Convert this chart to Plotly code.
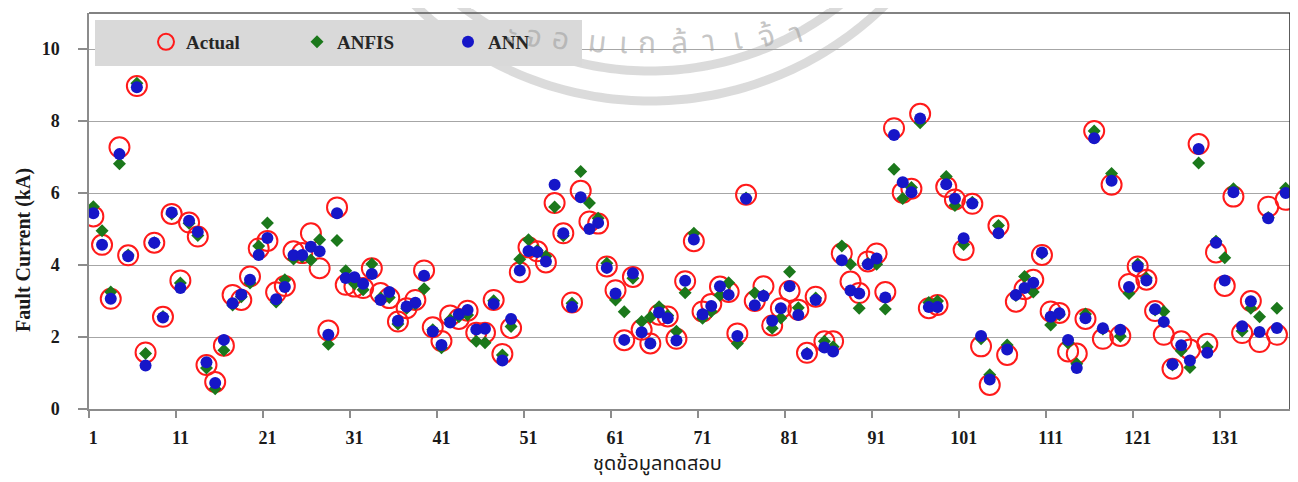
import math
import plotly.graph_objects as go

# ---------------- data ----------------
sample_no = list(range(1, 139))

actual = [5.35, 4.56, 3.06, 7.27, 4.27, 8.97, 1.57, 4.62, 2.56, 5.42,
          3.57, 5.18, 4.79, 1.22, 0.75, 1.76, 3.17, 3.03, 3.68, 4.46,
          4.67, 3.24, 3.42, 4.38, 4.33, 4.88, 3.91, 2.18, 5.60, 3.45,
          3.40, 3.36, 3.91, 3.22, 3.08, 2.43, 2.80, 3.03, 3.85, 2.27,
          1.89, 2.60, 2.50, 2.73, 2.12, 2.12, 3.03, 1.53, 2.25, 3.80,
          4.49, 4.38, 4.07, 5.72, 4.88, 2.96, 6.06, 5.21, 5.15, 3.96,
          3.30, 1.91, 3.67, 2.20, 1.82, 2.62, 2.57, 1.95, 3.55, 4.66,
          2.71, 2.92, 3.40, 3.25, 2.10, 5.95, 3.00, 3.41, 2.32, 2.80,
          3.28, 2.76, 1.56, 3.12, 1.88, 1.88, 4.32, 3.54, 3.22, 4.10,
          4.32, 3.25, 7.80, 6.01, 6.12, 8.20, 2.80, 2.89, 6.17, 5.82,
          4.42, 5.70, 1.74, 0.67, 5.09, 1.50, 2.98, 3.33, 3.59, 4.28,
          2.71, 2.67, 1.60, 1.54, 2.50, 7.72, 1.95, 6.23, 2.03, 3.47,
          3.96, 3.59, 2.72, 2.06, 1.12, 1.88, 1.65, 7.36, 1.81, 4.35,
          3.42, 5.90, 2.11, 3.00, 1.86, 5.62, 2.06, 5.81]

anfis = [5.62, 4.95, 3.25, 6.81, 4.28, 9.05, 1.54, 4.62, 2.57, 5.42,
         3.50, 5.16, 4.82, 1.14, 0.56, 1.63, 2.89, 3.12, 3.50, 4.53,
         5.17, 2.97, 3.59, 4.17, 4.22, 4.14, 4.70, 1.80, 4.68, 3.84,
         3.48, 3.31, 4.03, 3.08, 3.10, 2.36, 2.80, 2.92, 3.34, 2.20,
         1.70, 2.48, 2.56, 2.61, 1.88, 1.84, 3.01, 1.50, 2.29, 4.16,
         4.70, 4.40, 4.24, 5.61, 4.81, 2.94, 6.60, 5.72, 5.30, 4.05,
         3.03, 2.70, 3.63, 2.43, 2.55, 2.84, 2.60, 2.16, 3.23, 4.88,
         2.52, 2.71, 3.16, 3.51, 1.82, 5.86, 3.22, 3.15, 2.24, 2.53,
         3.81, 2.81, 1.55, 3.08, 1.88, 1.73, 4.53, 4.02, 2.80, 4.04,
         4.02, 2.78, 6.66, 5.85, 6.15, 7.95, 2.96, 3.00, 6.46, 5.65,
         4.57, 5.74, 1.95, 0.95, 5.10, 1.78, 3.15, 3.68, 3.25, 4.32,
         2.33, 2.62, 1.83, 1.26, 2.64, 7.72, 2.22, 6.54, 2.02, 3.21,
         4.03, 3.64, 2.75, 2.71, 1.22, 1.62, 1.15, 6.83, 1.72, 4.66,
         4.20, 6.12, 2.17, 2.80, 2.56, 5.32, 2.80, 6.13]

ann = [5.44, 4.56, 3.06, 7.08, 4.24, 8.94, 1.21, 4.62, 2.54, 5.46,
       3.36, 5.23, 4.92, 1.30, 0.72, 1.92, 2.94, 3.18, 3.59, 4.28,
       4.75, 3.05, 3.39, 4.27, 4.28, 4.51, 4.38, 2.06, 5.44, 3.64,
       3.66, 3.48, 3.75, 3.03, 3.25, 2.45, 2.85, 2.95, 3.70, 2.15,
       1.78, 2.40, 2.63, 2.75, 2.21, 2.23, 2.92, 1.35, 2.50, 3.85,
       4.39, 4.36, 4.10, 6.23, 4.88, 2.83, 5.88, 5.00, 5.17, 3.92,
       3.21, 1.92, 3.77, 2.13, 1.82, 2.68, 2.52, 1.90, 3.56, 4.71,
       2.63, 2.86, 3.41, 3.17, 2.03, 5.84, 2.88, 3.14, 2.45, 2.80,
       3.41, 2.61, 1.53, 3.03, 1.71, 1.60, 4.13, 3.29, 3.21, 4.02,
       4.18, 3.10, 7.61, 6.30, 6.02, 8.07, 2.83, 2.83, 6.24, 5.84,
       4.74, 5.71, 2.03, 0.82, 4.88, 1.65, 3.17, 3.36, 3.51, 4.35,
       2.56, 2.66, 1.92, 1.14, 2.52, 7.52, 2.24, 6.34, 2.20, 3.39,
       3.96, 3.57, 2.77, 2.42, 1.24, 1.77, 1.35, 7.22, 1.56, 4.62,
       3.57, 6.02, 2.30, 2.99, 2.14, 5.30, 2.25, 6.00]

tick_values = [1, 11, 21, 31, 41, 51, 61, 71, 81, 91, 101, 111, 121, 131]
tick_labels = [str(v) for v in tick_values]
boundary_ticks = [v - 0.5 for v in tick_values]
y_ticks = [0, 2, 4, 6, 8, 10]

# ---------------- figure geometry ----------------
# the page body has an 8px margin, so the figure starts at page (8, 8)
OFF = 8
PAGE_W, PAGE_H = 1298, 482
PL, PR, PT, PB = 89, 1290, 13, 409          # plot area in page pixels
W, H = PAGE_W - OFF, PAGE_H - OFF
ML, MT = PL - OFF, PT - OFF
MR, MB = W - (PR - OFF), H - (PB - OFF)
PW, PH = PR - PL, PB - PT


def px(xp):
    return (xp - PL) / PW


def py(yp):
    return (PB - yp) / PH


SERIF = "Liberation Serif, Times New Roman, serif"
THAI = "Noto Sans Thai, Noto Serif Thai, Loma, Garuda, Norasi, Tahoma, sans-serif"
GRID = "#a6a6a6"
AXIS = "#8c8c8c"

fig = go.Figure()
fig.add_trace(go.Scatter(
    x=sample_no, y=actual, mode="markers", name="Actual",
    marker=dict(symbol="circle-open", size=20, color="#ff1a1a",
                line=dict(width=2, color="#ff1a1a"))))
fig.add_trace(go.Scatter(
    x=sample_no, y=anfis, mode="markers", name="ANFIS",
    marker=dict(symbol="diamond", size=10, color="#1b781b")))
fig.add_trace(go.Scatter(
    x=sample_no, y=ann, mode="markers", name="ANN",
    marker=dict(symbol="circle", size=12, color="#1616c8")))

shapes = []


def arc_path(cx, cy, r, x0, x1, n=80):
    pts = []
    for k in range(n + 1):
        xx = x0 + (x1 - x0) * k / n
        d = r * r - (xx - cx) ** 2
        if d < 0:
            continue
        yy = cy + math.sqrt(d)
        pts.append((px(xx), py(yy)))
    return "M " + " L ".join(f"{a:.5f},{b:.5f}" for a, b in pts)


# faint watermark rings (decoration)
for r in (336, 306):
    shapes.append(dict(type="path", xref="paper", yref="paper",
                       path=arc_path(650, -235, r, 650 - r * 0.74, 650 + r * 0.74),
                       line=dict(color="rgba(190,190,190,0.55)", width=9),
                       layer="below"))

# legend background box
shapes.append(dict(type="rect", xref="paper", yref="paper",
                   x0=px(95), x1=px(582), y0=py(66), y1=py(20),
                   fillcolor="#d9d9d9", line=dict(width=0), layer="above"))
# frame top and right
shapes.append(dict(type="line", xref="paper", yref="paper", x0=0, x1=1, y0=1, y1=1,
                   line=dict(color="#595959", width=1.5)))
shapes.append(dict(type="line", xref="paper", yref="paper", x0=1, x1=1, y0=0, y1=1,
                   line=dict(color="#262626", width=1.5)))

annotations = []
# watermark letters along a gentle arc
wm_letters = [("ะ", 512), ("จ", 534), ("อ", 560), ("ม", 597), ("เ", 623), ("ก", 647),
              ("ล้", 679), ("า", 709), ("เ", 737), ("จ้", 767), ("า", 796)]
RW = 1050
for ch, xx in wm_letters:
    dx = xx - 650
    yy = 44 - RW + math.sqrt(RW ** 2 - dx ** 2)
    ang = -math.degrees(math.asin(dx / RW)) * 2.2
    annotations.append(dict(text=ch, xref="paper", yref="paper", x=px(xx), y=py(yy),
                            xanchor="center", yanchor="middle", showarrow=False,
                            textangle=ang,
                            font=dict(family=THAI, size=30, color="rgba(160,160,160,0.6)")))

annotations.append(dict(text="Fault Current (kA)", xref="paper", yref="paper",
                        x=px(23), y=py(250), xanchor="center", yanchor="middle",
                        textangle=-90, showarrow=False,
                        font=dict(family=SERIF, size=20, color="#1a1a1a", weight="bold")))
annotations.append(dict(text="ชุดข้อมูลทดสอบ", xref="paper", yref="paper",
                        x=px(657), y=py(464), xanchor="center", yanchor="middle",
                        showarrow=False,
                        font=dict(family=THAI, size=20, color="#1a1a1a")))

fig.update_layout(
    width=W, height=H,
    margin=dict(l=ML, r=MR, t=MT, b=MB, autoexpand=False),
    paper_bgcolor="white", plot_bgcolor="white",
    showlegend=True,
    legend=dict(orientation="h", x=px(146), y=py(42), xanchor="left", yanchor="middle",
                bgcolor="rgba(0,0,0,0)", entrywidth=106,
                font=dict(family=SERIF, size=19, color="#262626", weight="bold")),
    shapes=shapes,
    annotations=annotations,
    xaxis=dict(range=[0.5, 138.5], tickmode="array", tickvals=tick_values,
               ticktext=tick_labels, ticks="outside", ticklen=7,
               tickcolor="rgba(0,0,0,0)", showgrid=False, zeroline=False,
               showline=True, linecolor=AXIS, linewidth=1.5,
               ticklabelstandoff=5,
               minor=dict(tickmode="array", tickvals=boundary_ticks, ticks="outside",
                          ticklen=7, tickcolor=AXIS, tickwidth=1.5, showgrid=False),
               tickfont=dict(family=SERIF, size=18, color="#1a1a1a", weight="bold")),
    yaxis=dict(range=[0, 11], tickmode="array", tickvals=y_ticks,
               ticks="outside", ticklen=9, tickcolor=AXIS, tickwidth=1.5,
               showgrid=True, gridcolor=GRID, gridwidth=1.2, zeroline=False,
               showline=True, linecolor=AXIS, linewidth=1.5,
               ticklabelstandoff=15,
               tickfont=dict(family=SERIF, size=18, color="#1a1a1a", weight="bold")),
)

fig.write_html("out.html")
